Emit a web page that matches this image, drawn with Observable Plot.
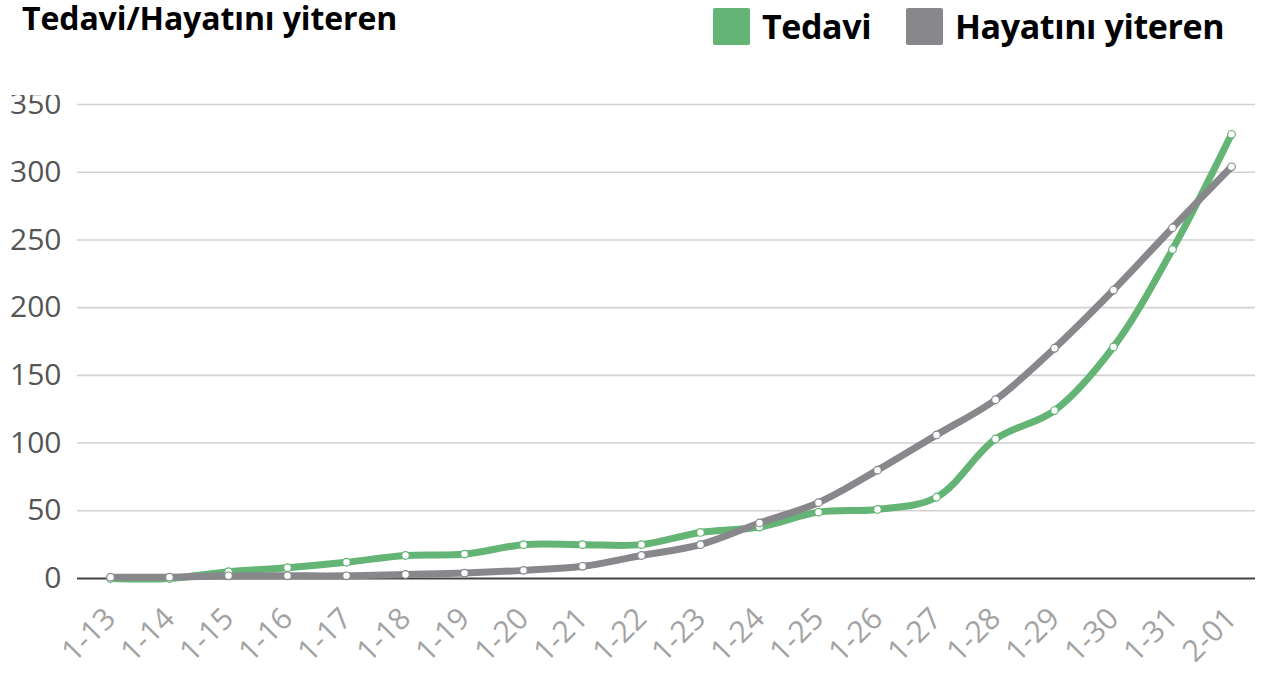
<!DOCTYPE html>
<html>
<head>
<meta charset="utf-8">
<script src="https://cdn.jsdelivr.net/npm/d3@7"></script>
<script src="https://cdn.jsdelivr.net/npm/@observablehq/plot@0.6"></script>
<style>
  html, body { margin: 0; padding: 0; background: white; }
  #wrap { width: 1268px; height: 673px; position: relative; overflow: hidden; }
  #header { position: relative; height: 95px; font-family: "Open Sans", sans-serif; }
  #title { position: absolute; left: 22px; top: 3px; font-size: 32px; line-height: 30px; font-weight: 700; color: #000; letter-spacing: -0.1px; white-space: nowrap; }
  .leg { position: absolute; top: 6px; display: flex; align-items: center; font-size: 34px; line-height: 40px; font-weight: 700; color: #000; letter-spacing: -0.4px; white-space: nowrap; }
  .sw { width: 37px; height: 37px; border-radius: 2px; margin-right: 12px; }
</style>
</head>
<body>
<div id="wrap">
  <div id="header">
    <div id="title"></div>
    <div id="legend"></div>
  </div>
  <div id="chart"></div>
</div>
<script>
const titleText = "Tedavi/Hayatını yiteren";
const seriesNames = ["Tedavi", "Hayatını yiteren"];
const seriesColors = ["#63b475", "#88888c"];
const dates = ["1-13","1-14","1-15","1-16","1-17","1-18","1-19","1-20","1-21","1-22","1-23","1-24","1-25","1-26","1-27","1-28","1-29","1-30","1-31","2-01"];
const tedavi = [0,0,5,8,12,17,18,25,25,25,34,38,49,51,60,103,124,171,243,328];
const hayatiniYiteren = [1,1,2,2,2,3,4,6,9,17,25,41,56,80,106,132,170,213,259,304];
const yTicks = [0,50,100,150,200,250,300,350];

document.getElementById("title").textContent = titleText;
const legendLefts = [713, 906];
const legend = document.getElementById("legend");
seriesNames.forEach((name, i) => {
  const item = document.createElement("div");
  item.className = "leg";
  item.style.left = legendLefts[i] + "px";
  const sw = document.createElement("div");
  sw.className = "sw";
  sw.style.background = seriesColors[i];
  const t = document.createElement("span");
  t.textContent = name;
  item.appendChild(sw);
  item.appendChild(t);
  legend.appendChild(item);
});

const data = dates.flatMap((d, i) => [
  {date: d, value: tedavi[i], series: seriesNames[0]},
  {date: d, value: hayatiniYiteren[i], series: seriesNames[1]}
]);

const chart = Plot.plot({
  width: 1268,
  height: 578,
  marginTop: 9,
  marginBottom: 95,
  marginLeft: 77,
  marginRight: 13,
  style: {fontFamily: "'Open Sans', sans-serif", background: "white"},
  x: {type: "point", domain: dates, padding: 0, insetLeft: 30, insetRight: 21},
  y: {domain: [0, 350]},
  color: {domain: seriesNames, range: seriesColors},
  marks: [
    Plot.ruleY(yTicks.filter(t => t > 0), {stroke: "#d2d2d2", strokeWidth: 1.6}),
    Plot.ruleY([0], {stroke: "#444", strokeWidth: 2.2}),
    Plot.axisY({ticks: yTicks, tickSize: 0, tickPadding: 16, fontSize: 30, color: "#555", label: null}),
    Plot.axisX({tickSize: 0, tickRotate: -45, tickPadding: 35, fontSize: 30, color: "#a3a3a3", label: null}),
    Plot.line(data, {x: "date", y: "value", z: "series", stroke: "series", strokeWidth: 7, curve: "catmull-rom"}),
    Plot.dot(data, {x: "date", y: "value", fill: "white", stroke: "series", strokeWidth: 1.2, r: 3.8})
  ]
});
document.getElementById("chart").appendChild(chart);
</script>
</body>
</html>
